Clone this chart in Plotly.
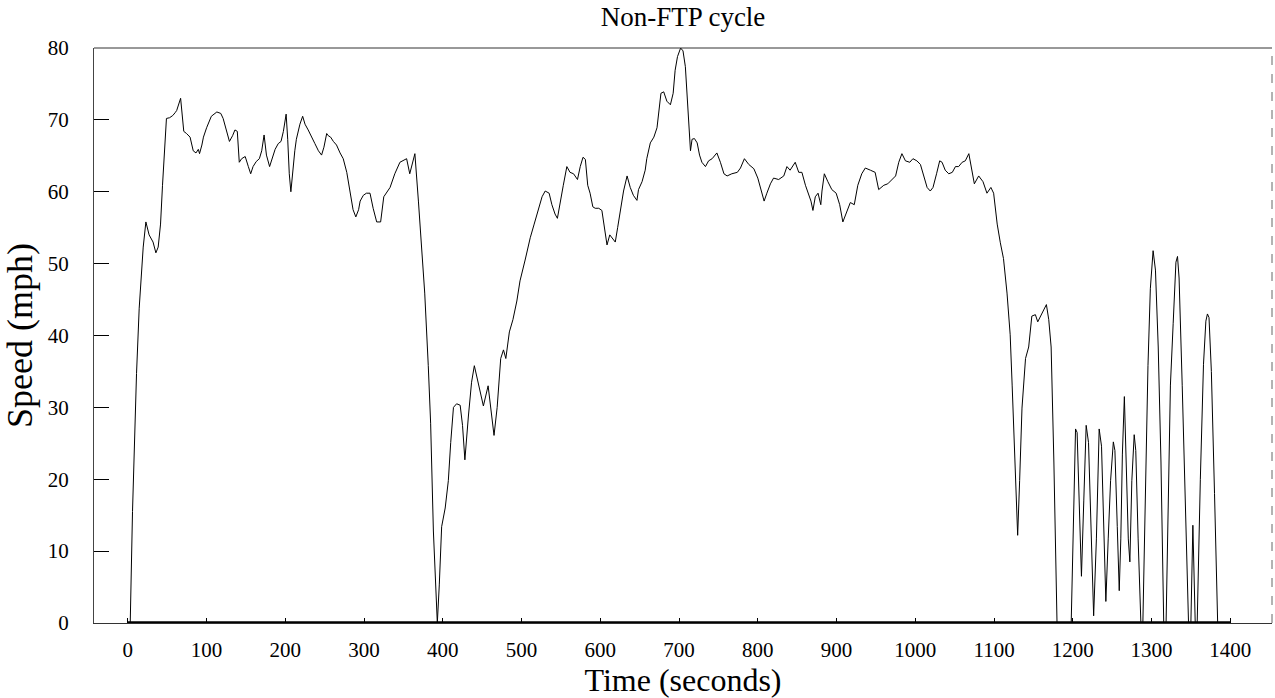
import plotly.graph_objects as go

# Time (s) and speed (mph)
time_s = [0, 3, 5.9, 8.9, 11, 14.4, 17.4, 19.5, 22.9, 27, 32, 35.6, 38.5, 41.5, 44, 46.2, 49, 53, 57, 60,
          62, 67, 71, 74.5, 79, 83, 86.5, 89.5, 91, 94, 96, 100, 106, 113, 118, 121, 125, 129, 133, 136,
          139, 141.5, 144.5, 149, 153, 156, 159, 163, 167, 170, 173, 176, 180, 183, 187, 191, 194.5, 197.5, 201, 203,
          205, 207, 209, 212, 214, 218.5, 222, 225, 229, 233, 237.5, 242, 246, 249, 252.5, 254.5, 257.5, 261, 265, 269.5,
          273.5, 278, 282, 286, 289.5, 293, 295, 299, 303, 307.5, 311.5, 316, 321, 325, 333, 339, 345.5, 354, 358, 364.5,
          369, 373, 377, 381.5, 384.5, 388, 391.5, 393, 395.5, 398.5, 403, 407, 410, 413.5, 417.5, 422, 425, 428, 432.5, 436.5,
          440, 445, 451.5, 457.5, 462, 465, 469, 473.5, 477, 480, 484.5, 489, 494, 498, 504.5, 511, 516, 521.5, 526, 530,
          535, 538.5, 542.5, 545.5, 549, 553, 557.5, 561.5, 566, 571, 574.5, 578, 581, 584, 587, 590.5, 593.5, 598, 602, 605,
          608.5, 612, 616, 619, 622, 625.5, 629.5, 634, 638, 642, 646.5, 648.5, 653, 657, 659, 663.5, 668, 672, 675, 677,
          680.5, 684.5, 689, 692.5, 695, 698, 702, 705, 708, 710, 712, 714.5, 716.5, 719.5, 723, 726, 729, 733.5, 737.5, 742,
          748, 752.5, 757, 761, 767, 774, 778, 783, 788.5, 795, 800, 804, 808, 811.5, 816, 820, 826.5, 833, 837, 841,
          847.5, 852, 856, 860.5, 864.5, 867.5, 870, 873, 876.5, 880, 881.5, 884.5, 889, 894, 899.5, 904, 908, 913, 917.5, 922.5,
          927, 932, 936.5, 943, 949, 953.5, 960, 965, 970.5, 975, 979, 983, 987.5, 993, 997, 1002, 1006.5, 1011, 1015, 1019,
          1022.5, 1027, 1031, 1034, 1038, 1042.5, 1047, 1051, 1055, 1059.5, 1063.5, 1068, 1072, 1075, 1080.5, 1086, 1091, 1096, 1099.5, 1104,
          1108, 1112, 1116.5, 1120.5, 1123, 1126, 1128.3, 1130, 1132.5, 1135.5, 1140, 1144, 1148, 1152.5, 1155.5, 1159, 1163, 1166.5, 1169.5, 1172.5,
          1176, 1180, 1198, 1201, 1203.5, 1205.5, 1208, 1211, 1214, 1217, 1220, 1222.5, 1226.5, 1230, 1233.5, 1236.5, 1239.5, 1242, 1245, 1248,
          1251.5, 1253.5, 1256.5, 1259, 1261, 1263, 1265.5, 1268, 1270.5, 1272.5, 1275, 1278, 1280, 1283, 1286.5, 1289, 1291.5, 1295.5, 1298.5, 1302,
          1305, 1308.5, 1312, 1315.5, 1318.5, 1321, 1324, 1327.5, 1331, 1333, 1335, 1339, 1343, 1347, 1350, 1352.5, 1355.5, 1358, 1362, 1366,
          1369, 1371, 1373, 1376, 1380, 1384, 1400]

speed_mph = [0, 0, 15.5, 27.8, 34.7, 43.8, 49.1, 52.3, 55.8, 54, 53, 51.5, 52.3, 55.5, 60.9, 65.1, 70.2, 70.3, 70.6, 71,
             71.3, 73, 68.4, 68.1, 67.6, 65.7, 65.4, 65.9, 65.3, 66.5, 67.6, 68.9, 70.5, 71.1, 70.9, 70.2, 68.4, 67, 67.8, 68.6,
             68.4, 64.1, 64.6, 64.9, 63.5, 62.5, 63.5, 64.2, 64.6, 65.7, 67.9, 65.1, 63.5, 64.6, 65.9, 66.7, 67, 68.4, 70.8, 67.3,
             62.5, 60, 62.5, 65.7, 67.3, 69.4, 70.5, 69.4, 68.6, 67.8, 66.7, 65.7, 65.1, 66.2, 68.1, 67.8, 67.6, 67, 66.5, 65.4,
             64.6, 62.7, 59.8, 57.5, 56.5, 57.5, 58.7, 59.5, 59.8, 59.8, 57.7, 55.8, 55.8, 59.3, 60.6, 62.5, 64.1, 64.6, 62.5, 65.3,
             58.7, 52.3, 45.9, 35.8, 27.8, 12.8, 3.7, 0, 5.3, 13.4, 16, 19.8, 25.1, 30, 30.5, 30.3, 27.5, 22.7, 28.8, 33.5,
             35.8, 33.4, 30.2, 33, 28.5, 26.1, 30, 36.8, 38, 36.8, 40.5, 42.2, 44.8, 47.6, 50.5, 53.6, 55.5, 57.7, 59.3, 60.1,
             59.8, 58.2, 56.9, 56.3, 58.7, 60.9, 63.5, 62.7, 62.5, 61.7, 63.5, 64.8, 64.5, 60.9, 59.8, 57.9, 57.7, 57.7, 57.4, 55,
             52.6, 54, 53.4, 53, 55, 57.7, 60.1, 62.2, 60.6, 59.5, 58.8, 60.3, 61.4, 63, 64.6, 66.8, 67.6, 68.9, 71.6, 73.7,
             73.9, 72.6, 72.1, 73.7, 76.9, 78.8, 80, 79.6, 77.4, 73.7, 70, 65.7, 67.3, 67.4, 66.8, 65.1, 64.1, 63.5, 64.3, 64.6,
             65.4, 64.1, 62.5, 62.2, 62.5, 62.7, 63.3, 64.6, 63.8, 63.2, 61.9, 60.1, 58.7, 59.8, 61.1, 61.9, 61.7, 62.2, 63.5, 63,
             64.1, 62.7, 62.7, 60.9, 59.8, 58.7, 57.4, 59.3, 59.8, 58.2, 60.1, 62.5, 61.4, 60.3, 59.8, 58.2, 55.8, 57.1, 58.5, 58.2,
             60.9, 62.5, 63.3, 63, 62.7, 60.3, 60.9, 61.1, 61.7, 62.2, 64.1, 65.3, 64.3, 64.1, 64.6, 64.3, 63.8, 62.2, 60.6, 60.1,
             60.6, 62.5, 64.3, 64.1, 63, 62.5, 62.7, 63.5, 63.5, 64.1, 64.3, 65.3, 63, 61.1, 62.2, 61.4, 59.8, 60.6, 59.8, 55.5,
             52.9, 50.7, 45.9, 40.1, 33.1, 25.1, 17.1, 12.2, 19.8, 29.9, 36.8, 38.4, 42.7, 42.9, 41.9, 42.7, 43.5, 44.3, 42.2, 38.4,
             22.4, 0, 0, 17.1, 27, 26.5, 17.1, 6.5, 17.1, 27.5, 25.1, 14.4, 1, 11.7, 27, 24.6, 11.7, 3, 11.7, 19.8,
             25.2, 24, 13.4, 4.5, 11.7, 23.5, 31.5, 22.4, 11.7, 8.5, 19.8, 26.2, 24, 11.7, 0, 0, 15.5, 35.8, 46.5, 51.8,
             49.1, 38.4, 22.4, 0, 0, 17.1, 33.1, 41.7, 50.2, 51, 48, 33, 15, 0, 0, 13.6, 0, 0, 20, 36,
             42, 43, 42.5, 35, 18, 0, 0]

# Heavy zero-speed baseline drawn under the trace
baseline_t = [0, 1400]
baseline_v = [0, 0]

x_ticks = list(range(0, 1401, 100))
y_ticks = list(range(0, 81, 10))

FONT = "Liberation Serif, Times New Roman, serif"

fig = go.Figure()
fig.add_trace(go.Scatter(x=baseline_t, y=baseline_v, mode="lines",
                         line=dict(color="black", width=3.5), hoverinfo="skip", showlegend=False))
fig.add_trace(go.Scatter(x=time_s, y=speed_mph, mode="lines",
                         line=dict(color="black", width=1), showlegend=False))

fig.update_layout(
    width=1275, height=698,
    margin=dict(l=94, r=3, t=48, b=75),
    paper_bgcolor="white", plot_bgcolor="white",
    font=dict(family=FONT, color="black", size=21),
    title=dict(text="Non-FTP cycle", x=0.5, xref="paper", xanchor="center",
               y=1 - 17 / 698, yref="container", yanchor="middle",
               font=dict(family=FONT, size=27, color="black")),
    xaxis=dict(range=[-43, 1453], tickvals=x_ticks, ticks="inside", ticklen=5, tickwidth=1,
               tickcolor="black", showgrid=False, zeroline=False, showline=True, linecolor="#333",
               linewidth=1, ticklabelstandoff=8, tickfont=dict(size=21),
               title=dict(text="Time (seconds)", font=dict(size=32), standoff=0)),
    yaxis=dict(range=[0, 80], tickvals=y_ticks, ticks="inside", ticklen=15, tickwidth=1,
               tickcolor="black", showgrid=False, zeroline=False, showline=True, linecolor="#444",
               linewidth=1, ticklabelstandoff=20, tickfont=dict(size=21),
               title=dict(text="Speed (mph)", font=dict(size=36), standoff=6)),
    shapes=[
        dict(type="line", xref="paper", yref="paper", x0=0, x1=1, y0=1, y1=1,
             line=dict(color="#333", width=1)),
        dict(type="line", xref="paper", yref="paper", x0=1, x1=1, y0=0, y1=1,
             line=dict(color="#666", width=1, dash="dash")),
    ],
)

fig.write_html("out.html")
